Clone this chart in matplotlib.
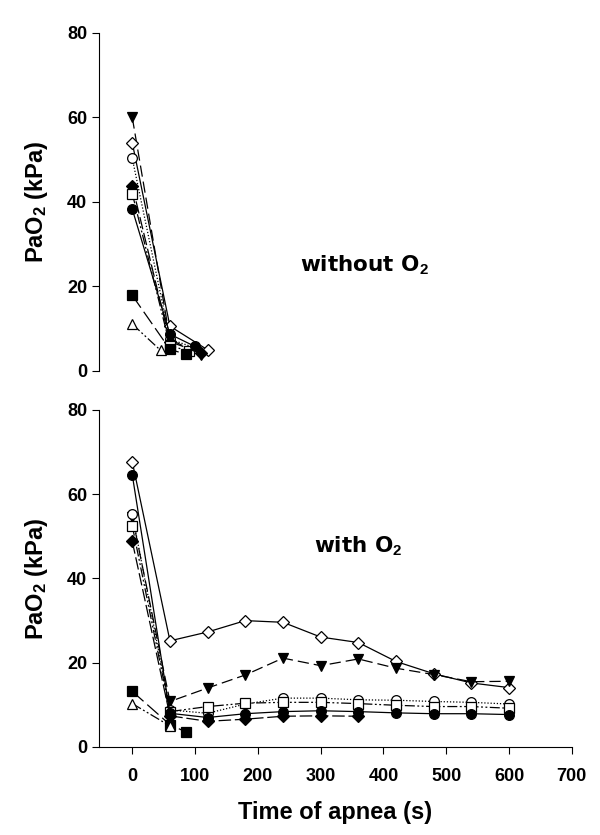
import matplotlib
matplotlib.use("Agg")
import matplotlib.pyplot as plt

plt.rcParams['font.family'] = ['Liberation Sans', 'DejaVu Sans']
plt.rcParams['font.weight'] = 'bold'
plt.rcParams['axes.labelweight'] = 'bold'
plt.rcParams['mathtext.fontset'] = 'custom'
plt.rcParams['mathtext.bf'] = 'Liberation Sans:bold'
plt.rcParams['mathtext.rm'] = 'Liberation Sans:bold'
plt.rcParams['mathtext.default'] = 'bf'

# ---- without O2 (top panel) ----
top_series = {
    'inv_tri':   ([0, 60, 110], [60.0, 7.5, 3.8]),
    'o_diamond': ([0, 60, 120], [54.0, 10.6, 5.0]),
    'o_circle':  ([0, 60, 100], [50.3, 7.5, 5.5]),
    'f_diamond': ([0, 60, 110], [43.9, 6.9, 4.3]),
    'o_square':  ([0, 60, 90], [42.0, 6.0, 4.7]),
    'f_circle':  ([0, 60, 100], [38.3, 8.7, 5.8]),
    'f_square':  ([0, 60, 85], [17.9, 5.1, 4.0]),
    'o_tri':     ([0, 45], [11.1, 4.9]),
}

# ---- with O2 (bottom panel) ----
times = [0, 60, 120, 180, 240, 300, 360, 420, 480, 540, 600]
bot_series = {
    'o_diamond': (times, [67.7, 25.2, 27.3, 30.0, 29.6, 26.1, 24.8, 20.3, 17.4, 15.2, 14.1]),
    'inv_tri':   (times, [54.7, 10.8, 14.0, 17.1, 21.1, 19.3, 20.9, 18.7, 17.2, 15.5, 15.6]),
    'o_circle':  (times, [55.3, 8.8, 8.0, 10.2, 11.6, 11.6, 11.2, 11.1, 10.8, 10.6, 10.2]),
    'o_square':  (times, [52.5, 8.4, 9.6, 10.4, 10.6, 10.6, 10.3, 9.9, 9.6, 9.6, 9.2]),
    'f_circle':  (times, [64.6, 8.0, 7.0, 7.9, 8.4, 8.6, 8.4, 8.1, 7.9, 7.9, 7.7]),
    'f_diamond': (times[:7], [48.8, 7.4, 6.1, 6.6, 7.3, 7.4, 7.3]),
    'f_square':  ([0, 60, 85], [13.2, 5.3, 3.6]),
    'o_tri':     ([0, 60], [10.3, 5.0]),
}

# marker, fill, linestyle, size
styles = {
    'o_diamond': ('D', 'white', '-', 6),
    'inv_tri':   ('v', 'black', (0, (9, 4)), 7),
    'o_circle':  ('o', 'white', (0, (1, 1.5)), 7),
    'o_square':  ('s', 'white', (0, (8, 2, 1.5, 2, 1.5, 2)), 6.5),
    'f_circle':  ('o', 'black', '-', 7),
    'f_diamond': ('D', 'black', (0, (10, 3)), 6),
    'f_square':  ('s', 'black', (0, (12, 4)), 6.5),
    'o_tri':     ('^', 'white', (0, (8, 2, 1.5, 2, 1.5, 2)), 7),
}

fig = plt.figure(figsize=(6, 8.35), dpi=100)
ax1 = fig.add_axes([0.165, 0.5557, 0.788, 0.4048])
ax2 = fig.add_axes([0.165, 0.1054, 0.788, 0.4036])


def draw(ax, series):
    for name, (x, y) in series.items():
        m, fc, ls, ms = styles[name]
        ax.plot(x, y, color='black', lw=0.9, linestyle=ls, marker=m,
                markerfacecolor=fc, markeredgecolor='black', markersize=ms,
                markeredgewidth=0.9)


draw(ax1, top_series)
draw(ax2, bot_series)

for ax in (ax1, ax2):
    ax.set_xlim(-53, 700)
    ax.set_ylim(0, 80)
    ax.set_yticks([0, 20, 40, 60, 80])
    ax.spines['top'].set_visible(False)
    ax.spines['right'].set_visible(False)
    ax.tick_params(direction='out', length=5, width=0.8, labelsize=13)
    ax.set_ylabel(r'PaO$_2$ (kPa)', fontsize=17, fontweight='bold', labelpad=12)
    for lbl in ax.get_yticklabels() + ax.get_xticklabels():
        lbl.set_fontweight('bold')

ax1.spines['bottom'].set_visible(False)
ax1.set_xticks([])

ax2.set_xticks([0, 100, 200, 300, 400, 500, 600, 700])
ax2.tick_params(axis='x', pad=10)
ax2.set_xlabel('Time of apnea (s)', fontsize=17, fontweight='bold', labelpad=12)

ax1.text(370, 25, r'without O$_2$', fontsize=15.5, fontweight='bold',
         ha='center', va='center', family=['DejaVu Sans'])
ax2.text(360, 47.7, r'with O$_2$', fontsize=15.5, fontweight='bold',
         ha='center', va='center', family=['DejaVu Sans'])

fig.savefig('out.png', dpi=100)
